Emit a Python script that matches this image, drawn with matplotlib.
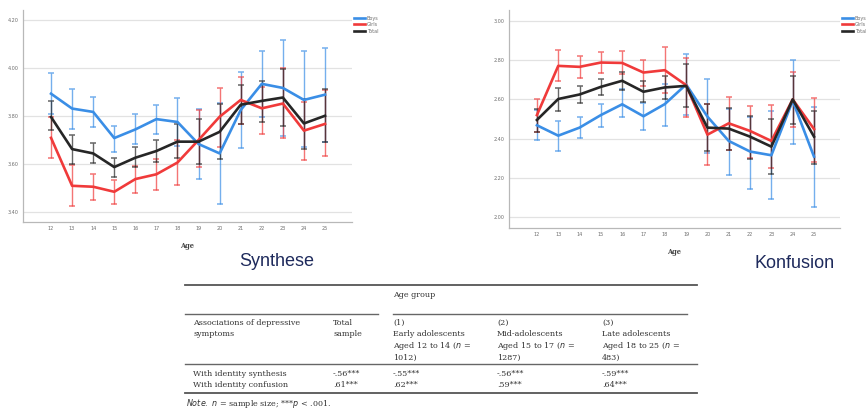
import numpy as np
import matplotlib
matplotlib.use('Agg')
import matplotlib.pyplot as plt

W, H = 866, 412

ages = list(range(12, 26))

# Synthese (identity synthesis) means and error bar ends
syn_boys = [3.893, 3.831, 3.817, 3.708, 3.744, 3.787, 3.775, 3.683, 3.644, 3.825, 3.934, 3.917, 3.867, 3.889]
syn_boys_lo = [3.808, 3.747, 3.753, 3.651, 3.683, 3.723, 3.676, 3.538, 3.433, 3.665, 3.796, 3.717, 3.670, 3.690]
syn_boys_hi = [3.978, 3.912, 3.879, 3.760, 3.808, 3.847, 3.877, 3.828, 3.855, 3.985, 4.072, 4.118, 4.069, 4.083]
syn_girls = [3.709, 3.509, 3.505, 3.484, 3.537, 3.557, 3.606, 3.700, 3.797, 3.867, 3.832, 3.852, 3.739, 3.767]
syn_girls_lo = [3.626, 3.424, 3.449, 3.431, 3.481, 3.491, 3.512, 3.588, 3.672, 3.765, 3.723, 3.707, 3.616, 3.633]
syn_girls_hi = [3.795, 3.595, 3.560, 3.532, 3.591, 3.620, 3.700, 3.824, 3.918, 3.962, 3.920, 3.999, 3.860, 3.909]
syn_total = [3.796, 3.662, 3.644, 3.587, 3.626, 3.654, 3.693, 3.693, 3.734, 3.847, 3.863, 3.877, 3.769, 3.801]
syn_total_lo = [3.741, 3.599, 3.602, 3.545, 3.588, 3.609, 3.623, 3.598, 3.622, 3.767, 3.775, 3.758, 3.661, 3.693]
syn_total_hi = [3.861, 3.722, 3.686, 3.623, 3.670, 3.700, 3.765, 3.786, 3.850, 3.930, 3.946, 3.998, 3.870, 3.913]

# Konfusion (identity confusion)
kon_boys = [2.468, 2.415, 2.456, 2.520, 2.575, 2.514, 2.576, 2.676, 2.512, 2.388, 2.334, 2.315, 2.593, 2.308]
kon_boys_lo = [2.393, 2.337, 2.402, 2.461, 2.512, 2.444, 2.464, 2.520, 2.325, 2.214, 2.144, 2.093, 2.371, 2.051]
kon_boys_hi = [2.546, 2.490, 2.508, 2.575, 2.651, 2.583, 2.681, 2.834, 2.702, 2.550, 2.510, 2.540, 2.803, 2.563]
kon_girls = [2.520, 2.771, 2.766, 2.788, 2.786, 2.737, 2.749, 2.673, 2.420, 2.478, 2.439, 2.388, 2.600, 2.449]
kon_girls_lo = [2.436, 2.693, 2.710, 2.736, 2.729, 2.669, 2.631, 2.512, 2.263, 2.344, 2.303, 2.249, 2.458, 2.280]
kon_girls_hi = [2.600, 2.851, 2.822, 2.842, 2.846, 2.800, 2.868, 2.812, 2.578, 2.614, 2.568, 2.571, 2.742, 2.605]
kon_total = [2.495, 2.602, 2.625, 2.664, 2.695, 2.639, 2.661, 2.669, 2.456, 2.451, 2.410, 2.359, 2.600, 2.410]
kon_total_lo = [2.436, 2.542, 2.583, 2.624, 2.647, 2.588, 2.602, 2.563, 2.337, 2.344, 2.298, 2.220, 2.476, 2.273]
kon_total_hi = [2.549, 2.659, 2.668, 2.703, 2.742, 2.692, 2.719, 2.780, 2.576, 2.558, 2.515, 2.500, 2.717, 2.542]

syn_yticks = [3.40, 3.60, 3.80, 4.00, 4.20]
kon_yticks = [2.00, 2.20, 2.40, 2.60, 2.80, 3.00]

series_names = ['Boys', 'Girls', 'Total']
colors = ['#3a8ee6', '#f03a3a', '#262626']

# table content
tbl_head_left = ['Associations of depressive', 'symptoms']
tbl_head_total = ['Total', 'sample']
tbl_groups = [['(1)', 'Early adolescents', 'Aged 12 to 14 ($n$ =', '1012)'],
              ['(2)', 'Mid-adolescents', 'Aged 15 to 17 ($n$ =', '1287)'],
              ['(3)', 'Late adolescents', 'Aged 18 to 25 ($n$ =', '483)']]
tbl_rows = ['With identity synthesis', 'With identity confusion']
tbl_total = ['-.56***', '.61***']
tbl_vals = [['-.55***', '.62***'], ['-.56***', '.59***'], ['-.59***', '.64***']]


def px_axes(fig, x0, y0, x1, y1):
    return fig.add_axes([x0 / W, 1 - y1 / H, (x1 - x0) / W, (y1 - y0) / H])


def line_chart(ax, data, yticks, ylim, xlim, legend_xy):
    for (m, lo, hi), c, name in zip(data, colors, series_names):
        m = np.array(m)
        err = [m - np.array(lo), np.array(hi) - m]
        ax.errorbar(ages, m, yerr=err, fmt='none', ecolor=c, alpha=0.7,
                    elinewidth=1.0, capsize=2.4, capthick=1.1, zorder=2)
        ax.plot(ages, m, color=c, lw=1.9, label=name, zorder=3)
    ax.set_xlim(*xlim)
    ax.set_ylim(*ylim)
    ax.set_yticks(yticks)
    ax.set_yticklabels(['%.2f' % v for v in yticks])
    ax.set_xticks(ages)
    ax.tick_params(length=0, labelsize=3.5, colors='#6e6e6e', pad=3)
    ax.yaxis.grid(True, color='#e2e2e2', lw=0.9)
    ax.set_axisbelow(True)
    for s in ['top', 'right']:
        ax.spines[s].set_visible(False)
    for s in ['left', 'bottom']:
        ax.spines[s].set_color('#b8b8b8')
        ax.spines[s].set_linewidth(0.9)
    ax.set_xlabel('Age', fontsize=4.8, fontweight='bold', family='DejaVu Serif',
                  color='#444444', labelpad=8)
    ax.legend(loc='upper left', bbox_to_anchor=legend_xy, frameon=False,
              fontsize=3.5, handlelength=2.2, handletextpad=0.3,
              labelspacing=0.3, borderpad=0, labelcolor='#6e6e6e')


fig = plt.figure(figsize=(W / 100, H / 100), dpi=100)
fig.patch.set_facecolor('white')

ax1 = px_axes(fig, 23, 10, 352, 222)
line_chart(ax1,
           [(syn_boys, syn_boys_lo, syn_boys_hi),
            (syn_girls, syn_girls_lo, syn_girls_hi),
            (syn_total, syn_total_lo, syn_total_hi)],
           syn_yticks, (3.358, 4.242), (10.67, 26.28), (1.0, 0.985))

ax2 = px_axes(fig, 509, 10, 840, 228)
line_chart(ax2,
           [(kon_boys, kon_boys_lo, kon_boys_hi),
            (kon_girls, kon_girls_lo, kon_girls_hi),
            (kon_total, kon_total_lo, kon_total_hi)],
           kon_yticks, (1.944, 3.056), (10.69, 26.22), (1.0, 0.985))

# overlay in pixel coordinates for titles and table
ov = fig.add_axes([0, 0, 1, 1], zorder=5)
ov.set_xlim(0, W)
ov.set_ylim(H, 0)
ov.axis('off')
ov.patch.set_alpha(0)

ov.text(277, 261, 'Synthese', fontsize=13, color='#1e2a5c', ha='center', va='center',
        family='Liberation Sans')
ov.text(795, 264, 'Konfusion', fontsize=13, color='#1e2a5c', ha='center', va='center',
        family='Liberation Sans')

tc = '#333333'
tfs = 5.8
tf = 'DejaVu Serif'
ov.plot([185, 697], [285, 285], color='#555555', lw=1.3)
ov.plot([185, 378], [314, 314], color='#666666', lw=1.0)
ov.plot([393, 687], [314, 314], color='#666666', lw=1.0)
ov.plot([185, 697], [364, 364], color='#666666', lw=1.0)
ov.plot([185, 697], [393, 393], color='#555555', lw=1.3)

ov.text(393, 295, 'Age group', fontsize=tfs, color=tc, family=tf, va='center')
for i, t in enumerate(tbl_head_left):
    ov.text(193, 323 + i * 11.5, t, fontsize=tfs, color=tc, family=tf, va='center')
for i, t in enumerate(tbl_head_total):
    ov.text(333, 323 + i * 11.5, t, fontsize=tfs, color=tc, family=tf, va='center')
gx = [393, 497, 602]
for x, lines in zip(gx, tbl_groups):
    for i, t in enumerate(lines):
        ov.text(x, 323 + i * 11.5, t, fontsize=tfs, color=tc, family=tf, va='center')
for r, name in enumerate(tbl_rows):
    y = 374 + r * 11
    ov.text(193, y, name, fontsize=tfs, color=tc, family=tf, va='center')
    ov.text(333, y, tbl_total[r], fontsize=tfs, color=tc, family=tf, va='center')
    for x, vals in zip(gx, tbl_vals):
        ov.text(x, y, vals[r], fontsize=tfs, color=tc, family=tf, va='center')
ov.text(186, 404, r'$\it{Note.}$ $n$ = sample size; ***$p$ < .001.', fontsize=tfs,
        color=tc, family=tf, va='center')

fig.savefig('out.png', dpi=100, facecolor='white')
